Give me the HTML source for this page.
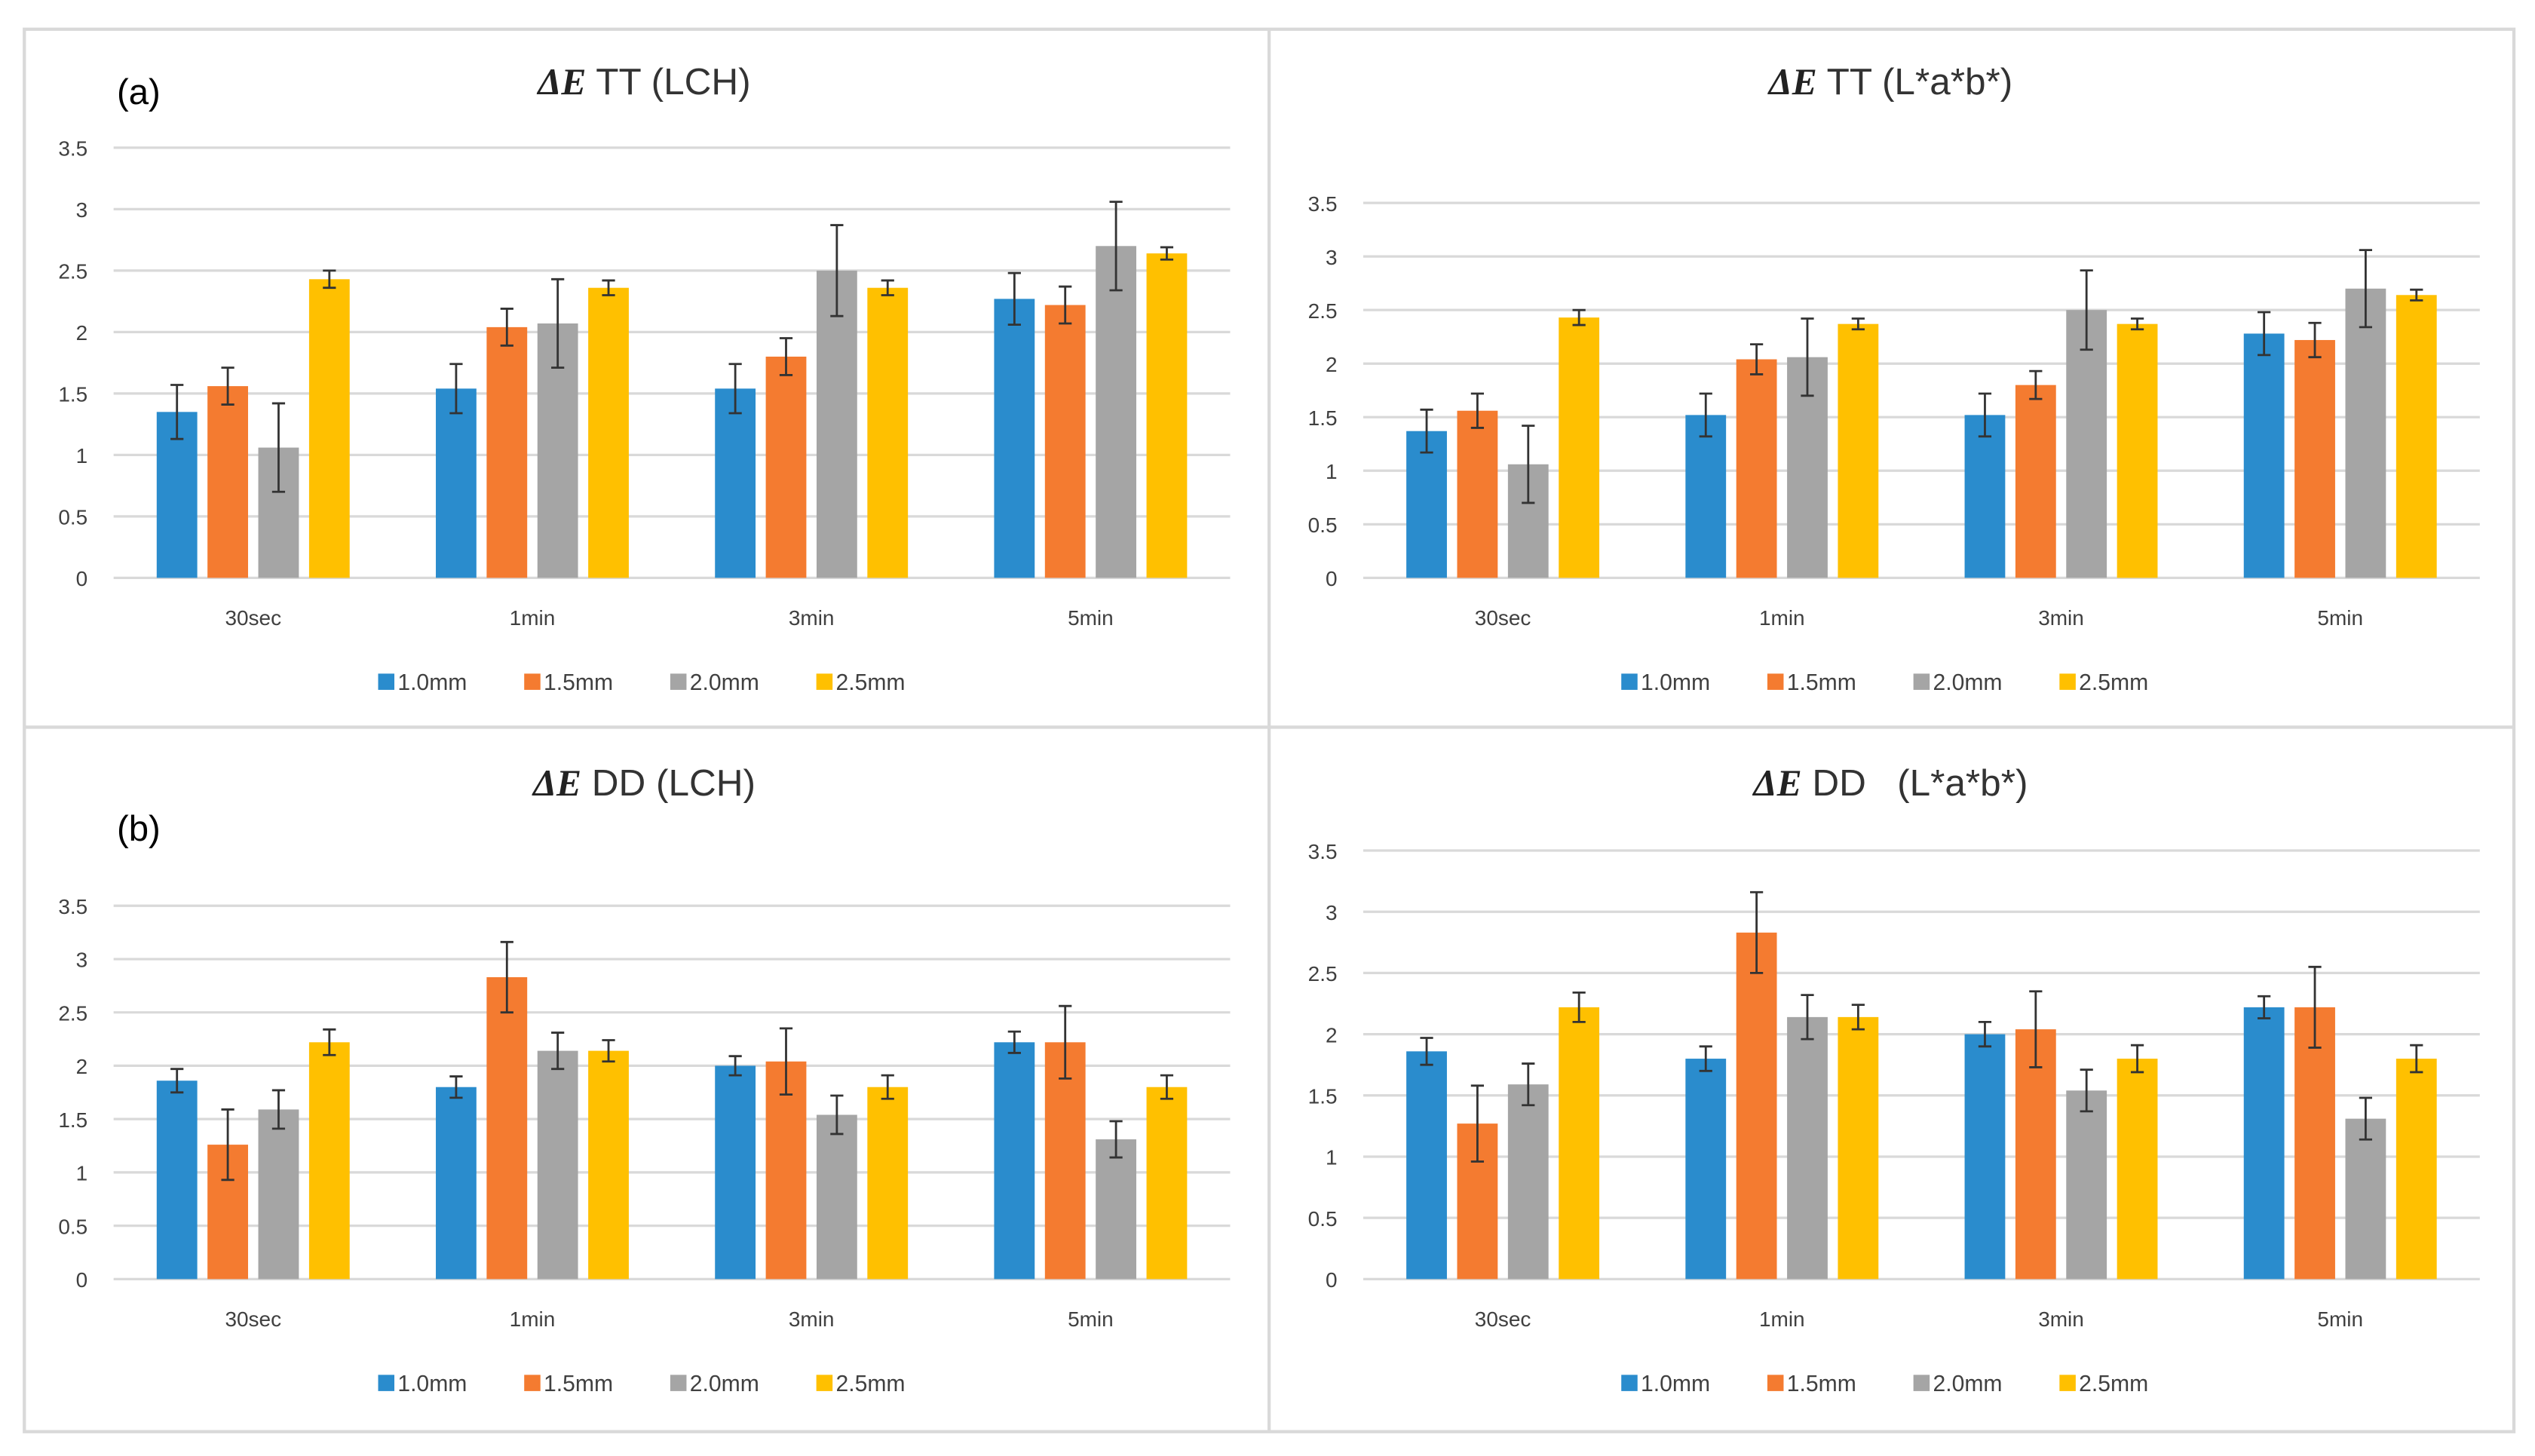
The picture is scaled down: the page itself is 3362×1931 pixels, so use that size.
<!DOCTYPE html>
<html><head><meta charset="utf-8"><style>
html,body{margin:0;padding:0;background:#fff;}
svg{display:block;}
text{font-family:"Liberation Sans",sans-serif;fill:#404040;}
</style></head><body>
<svg id="fig" width="3362" height="1931" viewBox="0 0 1562 897" preserveAspectRatio="none" xmlns="http://www.w3.org/2000/svg">
<rect x="15" y="18" width="1534" height="864" fill="#fff" stroke="#d9d9d9" stroke-width="2"/>
<line x1="782" y1="18" x2="782" y2="882" stroke="#d9d9d9" stroke-width="2"/>
<line x1="15" y1="448" x2="1549" y2="448" stroke="#d9d9d9" stroke-width="2"/>
<text x="72" y="64" font-size="22" style="fill:#000">(a)</text>
<text x="72" y="518" font-size="22" style="fill:#000">(b)</text>
</svg>
<script>
const categories = ["30sec","1min","3min","5min"];
const seriesNames = ["1.0mm","1.5mm","2.0mm","2.5mm"];
const colors = ["#2a8ccd","#f47b30","#a5a5a5","#ffc000"];
const yTicks = [0,0.5,1,1.5,2,2.5,3,3.5];
const yTickLabels = ["0","0.5","1","1.5","2","2.5","3","3.5"];
// values [series][category]
const ttLchVals = [[1.35,1.54,1.54,2.27],[1.56,2.04,1.80,2.22],[1.06,2.07,2.50,2.70],[2.43,2.36,2.36,2.64]];
const ttLchErr  = [[0.22,0.20,0.20,0.21],[0.15,0.15,0.15,0.15],[0.36,0.36,0.37,0.36],[0.07,0.06,0.06,0.05]];
const ttLabVals = [[1.37,1.52,1.52,2.28],[1.56,2.04,1.80,2.22],[1.06,2.06,2.50,2.70],[2.43,2.37,2.37,2.64]];
const ttLabErr  = [[0.20,0.20,0.20,0.20],[0.16,0.14,0.13,0.16],[0.36,0.36,0.37,0.36],[0.07,0.05,0.05,0.05]];
const ddLchVals = [[1.86,1.80,2.00,2.22],[1.26,2.83,2.04,2.22],[1.59,2.14,1.54,1.31],[2.22,2.14,1.80,1.80]];
const ddLchErr  = [[0.11,0.10,0.09,0.10],[0.33,0.33,0.31,0.34],[0.18,0.17,0.18,0.17],[0.12,0.10,0.11,0.11]];
const ddLabVals = [[1.86,1.80,2.00,2.22],[1.27,2.83,2.04,2.22],[1.59,2.14,1.54,1.31],[2.22,2.14,1.80,1.80]];
const ddLabErr  = [[0.11,0.10,0.10,0.09],[0.31,0.33,0.31,0.33],[0.17,0.18,0.17,0.17],[0.12,0.10,0.11,0.11]];

const NS="http://www.w3.org/2000/svg";
const svg=document.getElementById('fig');
function mk(tag,attrs,parent){const e=document.createElementNS(NS,tag);for(const k in attrs)e.setAttribute(k,attrs[k]);(parent||svg).appendChild(e);return e;}

function panel(o){
  const g=mk('g',{});
  
  
  const y=v=>o.y0-(v/3.5)*(o.y0-o.yTop);
  const cw=(o.x1-o.x0)/categories.length;
  const cx=i=>o.x0+cw*(i+0.5);
  const t=mk('text',{x:o.tx,y:o.ty,'font-size':23,'text-anchor':'middle'},g);
  
  
  t.innerHTML='<tspan font-family="Liberation Serif" font-weight="bold" font-style="italic" style="fill:#222">ΔE</tspan><tspan style="fill:#333"> '+o.title+'</tspan>';
  yTicks.forEach((v,i)=>{
    const l=mk('line',{x1:o.x0,x2:o.x1,y1:y(v),y2:y(v),stroke:'#d9d9d9','stroke-width':1.5},g);
    
    
    const tx=mk('text',{x:o.x0-16,y:y(v)+5,'font-size':13,'text-anchor':'end'},g);
    
    
    tx.textContent=yTickLabels[i];
  });
  categories.forEach((c,i)=>{
    const tx=mk('text',{x:cx(i),y:o.y0+29,'font-size':13,'text-anchor':'middle'},g);
    
    
    tx.textContent=c;
    for(let s=0;s<4;s++){
      const bx=cx(i)+(s-1.5)*31.3;
      const v=o.vals[s][i], e=o.err[s][i];
      const r=mk('rect',{x:bx-12.5,y:y(v),width:25,height:o.y0-y(v),fill:colors[s]},g);
      
      
      const eb=mk('path',{d:`M${bx},${y(v+e)}V${y(v-e)}M${bx-4},${y(v+e)}H${bx+4}M${bx-4},${y(v-e)}H${bx+4}`,stroke:'#333','stroke-width':1.3,fill:'none'},g);
      
      
    }
  });
  seriesNames.forEach((n,s)=>{
    const lx=o.lx+s*90;
    const sq=mk('rect',{x:lx,y:o.ly-10,width:10,height:10,fill:colors[s]},g);
    
    
    const tx=mk('text',{x:lx+12,y:o.ly,'font-size':14},g);
    
    
    tx.textContent=n;
  });
}
panel({name:'chart-tt-lch',title:'TT (LCH)',tx:397,ty:58,x0:70,x1:758,y0:356,yTop:91,vals:ttLchVals,err:ttLchErr,lx:233,ly:425});
panel({name:'chart-tt-lab',title:'TT (L*a*b*)',tx:1165,ty:58,x0:840,x1:1528,y0:356,yTop:125,vals:ttLabVals,err:ttLabErr,lx:999,ly:425});
panel({name:'chart-dd-lch',title:'DD (LCH)',tx:397,ty:490,x0:70,x1:758,y0:788,yTop:558,vals:ddLchVals,err:ddLchErr,lx:233,ly:857});
panel({name:'chart-dd-lab',title:'DD \u00a0 (L*a*b*)',tx:1165,ty:490,x0:840,x1:1528,y0:788,yTop:524,vals:ddLabVals,err:ddLabErr,lx:999,ly:857});
</script>
</body></html>
